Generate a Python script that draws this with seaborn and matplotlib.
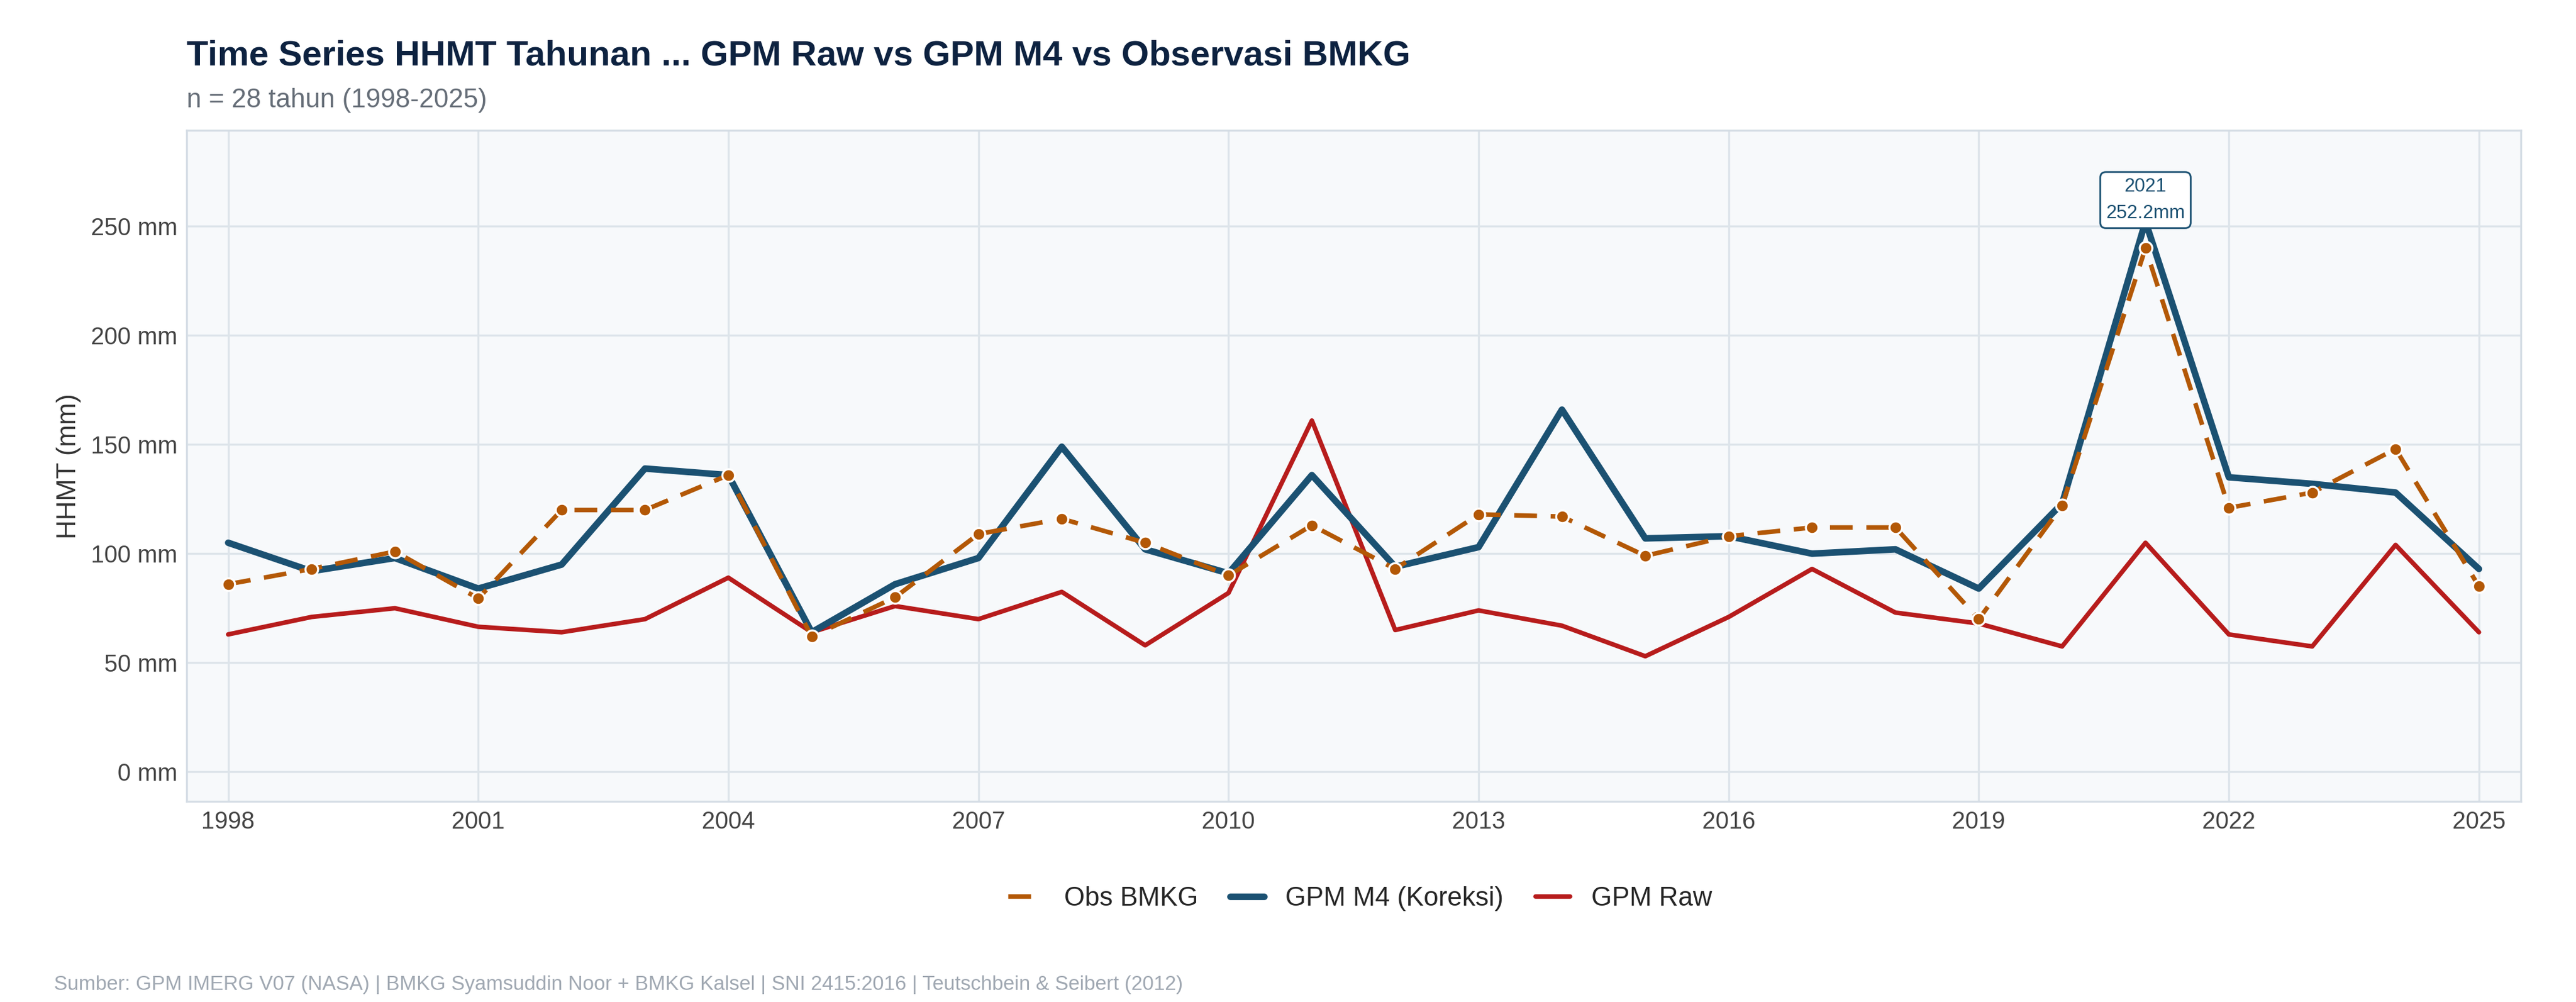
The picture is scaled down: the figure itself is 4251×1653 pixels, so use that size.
import matplotlib
matplotlib.use("Agg")
import matplotlib.pyplot as plt
import seaborn as sns
import pandas as pd
from matplotlib.lines import Line2D

years = list(range(1998, 2026))
obs_bmkg = [86, 93, 101, 79.5, 120, 120, 136, 62, 80, 109, 116, 105, 90, 113, 93, 118, 117, 99, 108, 112, 112, 70, 122, 240, 121, 128, 148, 85]
gpm_m4 = [105, 92, 98, 84, 95, 139, 136, 64, 86, 98, 149, 102, 91, 136, 94, 103, 166, 107, 108, 100, 102, 84, 123, 252.2, 135, 132, 128, 93]
gpm_raw = [63, 71, 75, 66.5, 64, 70, 89, 64, 76, 70, 82.5, 58, 82, 161, 65, 74, 67, 53, 71, 93, 73, 68, 57.5, 105, 63, 57.5, 104, 64]

df = pd.DataFrame({"Tahun": years, "Obs": obs_bmkg, "M4": gpm_m4, "Raw": gpm_raw})

sns.set_theme(style="whitegrid")
plt.rcParams['font.family'] = ['Liberation Sans', 'DejaVu Sans']

fig = plt.figure(figsize=(14.17, 5.51), dpi=300)
ax = fig.add_axes([0.0724, 0.200, 0.9116 - 0.0055, 0.670])
ax.set_facecolor("#f7f9fb")
for s in ax.spines.values():
    s.set_color("#d5dde5"); s.set_linewidth(0.8)
ax.grid(color="#dde4ea", linewidth=0.8)

c_obs, c_m4, c_raw = "#b35806", "#1b5172", "#b71c1c"
sns.lineplot(data=df, x="Tahun", y="Raw", ax=ax, color=c_raw, linewidth=1.8)
sns.lineplot(data=df, x="Tahun", y="M4", ax=ax, color=c_m4, linewidth=2.6)
sns.lineplot(data=df, x="Tahun", y="Obs", ax=ax, color=c_obs, linewidth=1.8,
             linestyle=(0, (5, 3)), marker="o", markersize=5,
             markeredgecolor="white", markeredgewidth=0.8)

ax.set_xlim(1997.5, 2025.5)
ax.set_ylim(-13.6, 294)
ax.set_xticks(list(range(1998, 2026, 3)))
ax.set_yticks([0, 50, 100, 150, 200, 250])
ax.set_yticklabels([f"{v} mm" for v in [0, 50, 100, 150, 200, 250]])
ax.tick_params(labelsize=9.5, colors="#444444", length=0)
ax.set_xlabel("")
ax.set_ylabel("HHMT (mm)", fontsize=10.5, color="#333333")

ax.annotate("2021\n252.2mm", xy=(2021, 252.2), xytext=(2021, 262), ha="center", va="center",
            fontsize=7.5, color=c_m4, linespacing=1.6,
            bbox=dict(boxstyle="round,pad=0.3", fc="white", ec=c_m4, lw=0.7))

fig.text(0.0724, 0.935, "Time Series HHMT Tahunan ... GPM Raw vs GPM M4 vs Observasi BMKG",
         fontsize=14, fontweight="bold", color="#0d2240")
fig.text(0.0724, 0.893, "n = 28 tahun (1998-2025)", fontsize=10.5, color="#666e78")
fig.text(0.021, 0.012, "Sumber: GPM IMERG V07 (NASA) | BMKG Syamsuddin Noor + BMKG Kalsel | SNI 2415:2016 | Teutschbein & Seibert (2012)",
         fontsize=8, color="#a0a8b2")

handles = [Line2D([], [], color=c_obs, lw=1.8, linestyle=(0, (5, 3))),
           Line2D([], [], color=c_m4, lw=2.6),
           Line2D([], [], color=c_raw, lw=1.8)]
fig.legend(handles, ["Obs BMKG", "GPM M4 (Koreksi)", "GPM Raw"], loc="center",
           bbox_to_anchor=(0.528, 0.103), ncol=3, frameon=False, fontsize=10.5,
           handlelength=1.3, columnspacing=1.2)

fig.savefig("out.png", dpi=300)
